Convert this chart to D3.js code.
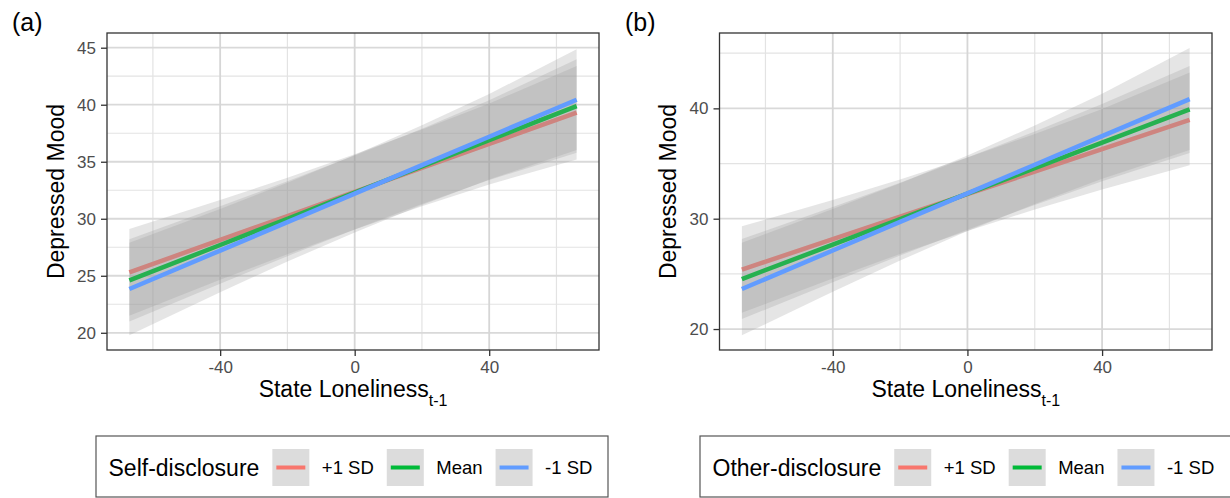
<!DOCTYPE html>
<html>
<head>
<meta charset="utf-8">
<script src="https://cdn.jsdelivr.net/npm/d3@7"></script>
<style>
  html, body { margin: 0; padding: 0; background: #fff; }
  svg { display: block; font-family: "Liberation Sans", Arial, Helvetica, sans-serif; }
</style>
</head>
<body>
<svg id="chart" width="1230" height="498"></svg>
<script>
// Predicted depressed mood across lagged state loneliness,
// at three levels of the moderator (+1 SD, Mean, -1 SD).
const loneliness = [-67, -40, -20, 0, 20, 40, 66];
const levels = ["+1 SD", "Mean", "-1 SD"];

// (a) self-disclosure: fitted values and confidence bounds per level
const selfFit = [
  [25.30, 28.14, 30.24, 32.35, 34.46, 36.56, 39.30],
  [24.60, 27.70, 30.00, 32.30, 34.60, 36.90, 39.88],
  [23.84, 27.21, 29.70, 32.20, 34.70, 37.19, 40.44]
];
const selfLower = [
  [21.50, 24.64, 26.89, 29.05, 31.09, 33.01, 35.20],
  [21.00, 24.30, 26.72, 29.05, 31.30, 33.40, 35.78],
  [19.79, 23.56, 26.25, 28.80, 31.20, 33.44, 36.02]
];
const selfUpper = [
  [29.10, 31.64, 33.59, 35.65, 37.83, 40.11, 43.40],
  [28.20, 31.10, 33.28, 35.55, 37.90, 40.40, 43.98],
  [27.89, 30.86, 33.15, 35.60, 38.20, 40.94, 44.86]
];

// (b) other-disclosure
const otherFit = [
  [25.39, 28.14, 30.18, 32.22, 34.26, 36.30, 38.95],
  [24.53, 27.65, 29.96, 32.27, 34.58, 36.89, 39.90],
  [23.63, 27.12, 29.71, 32.30, 34.89, 37.48, 40.84]
];
const otherLower = [
  [21.47, 24.59, 26.80, 28.89, 30.84, 32.65, 34.85],
  [20.90, 24.25, 26.66, 29.00, 31.25, 33.39, 35.95],
  [19.43, 23.37, 26.21, 28.88, 31.34, 33.63, 36.22]
];
const otherUpper = [
  [29.31, 31.69, 33.56, 35.55, 37.68, 39.95, 43.25],
  [28.16, 31.05, 33.26, 35.54, 37.91, 40.39, 43.85],
  [27.83, 30.87, 33.21, 35.72, 38.44, 41.33, 45.46]
];

const xTicks = [-40, 0, 40];
const xMinor = [-60, -20, 20, 60];
const selfYTicks = [20, 25, 30, 35, 40, 45];
const selfYMinor = [22.5, 27.5, 32.5, 37.5, 42.5];
const otherYTicks = [20, 30, 40];
const otherYMinor = [25, 35, 45];

const lineColors = ["#F8766D", "#00BA38", "#619CFF"];

const svg = d3.select("#chart");

function drawPanel(cfg) {
  const g = svg.append("g");
  const x = d3.scaleLinear().domain([-73.65, 72.65]).range([cfg.left, cfg.right]);
  const y = d3.scaleLinear().domain(cfg.yDomain).range([cfg.bottom, cfg.top]);

  // panel background
  g.append("rect")
    .attr("x", cfg.left).attr("y", cfg.top)
    .attr("width", cfg.right - cfg.left).attr("height", cfg.bottom - cfg.top)
    .attr("fill", "#fff");

  // grid
  const grid = g.append("g");
  grid.selectAll(".ymin").data(cfg.yMinor).join("line")
    .attr("x1", cfg.left).attr("x2", cfg.right)
    .attr("y1", d => y(d)).attr("y2", d => y(d))
    .attr("stroke", "#e3e3e3").attr("stroke-width", 1.2);
  grid.selectAll(".xmin").data(xMinor).join("line")
    .attr("y1", cfg.top).attr("y2", cfg.bottom)
    .attr("x1", d => x(d)).attr("x2", d => x(d))
    .attr("stroke", "#e3e3e3").attr("stroke-width", 1.2);
  grid.selectAll(".ymaj").data(cfg.yTicks).join("line")
    .attr("x1", cfg.left).attr("x2", cfg.right)
    .attr("y1", d => y(d)).attr("y2", d => y(d))
    .attr("stroke", "#d9d9d9").attr("stroke-width", 1.8);
  grid.selectAll(".xmaj").data(xTicks).join("line")
    .attr("y1", cfg.top).attr("y2", cfg.bottom)
    .attr("x1", d => x(d)).attr("x2", d => x(d))
    .attr("stroke", "#d6d6d6").attr("stroke-width", 1.8);

  // ribbons and lines, one level after another
  const area = d3.area()
    .x((d, i) => x(loneliness[i]))
    .y0(d => y(d[0]))
    .y1(d => y(d[1]));
  const line = d3.line()
    .x((d, i) => x(loneliness[i]))
    .y(d => y(d));

  levels.forEach((lv, k) => {
    const band = cfg.lower[k].map((lo, i) => [lo, cfg.upper[k][i]]);
    g.append("path")
      .attr("d", area(band))
      .attr("fill", "#999999")
      .attr("fill-opacity", 0.25);
    g.append("path")
      .attr("d", line(cfg.fit[k]))
      .attr("fill", "none")
      .attr("stroke", lineColors[k])
      .attr("stroke-width", 4.5);
  });

  // panel border
  g.append("rect")
    .attr("x", cfg.left).attr("y", cfg.top)
    .attr("width", cfg.right - cfg.left).attr("height", cfg.bottom - cfg.top)
    .attr("fill", "none").attr("stroke", "#333").attr("stroke-width", 1.3);

  // axes
  const xAxis = d3.axisBottom(x).tickValues(xTicks).tickSize(6).tickPadding(5)
    .tickFormat(d3.format("d"));
  const xa = g.append("g").attr("transform", `translate(0,${cfg.bottom})`).call(xAxis);
  const yAxis = d3.axisLeft(y).tickValues(cfg.yTicks).tickSize(6).tickPadding(5)
    .tickFormat(d3.format("d"));
  const ya = g.append("g").attr("transform", `translate(${cfg.left},0)`).call(yAxis);
  [xa, ya].forEach(a => {
    a.select(".domain").remove();
    a.selectAll(".tick line").attr("stroke", "#333").attr("stroke-width", 1.3);
    a.selectAll(".tick text")
      .attr("fill", "#4d4d4d")
      .style("font-size", "17px")
      .style("font-family", "'Liberation Sans', Arial, sans-serif");
  });
  xa.selectAll(".tick text").text(d => d < 0 ? "-" + Math.abs(d) : d);
  ya.selectAll(".tick text").attr("x", -11);

  // axis titles
  g.append("text")
    .attr("transform", `translate(${cfg.left - 43.5},${(cfg.top + cfg.bottom) / 2}) rotate(-90)`)
    .attr("text-anchor", "middle")
    .style("font-size", "23px")
    .attr("fill", "#000")
    .text("Depressed Mood");

  const xt = g.append("text")
    .attr("x", (cfg.left + cfg.right) / 2)
    .attr("y", 396.5)
    .attr("text-anchor", "middle")
    .attr("fill", "#000")
    .style("font-size", "23px");
  xt.append("tspan").text("State Loneliness");
  xt.append("tspan").attr("dy", 9).style("font-size", "16px").text("t-1");

  // panel tag
  svg.append("text")
    .attr("x", cfg.tagX).attr("y", 31)
    .style("font-size", "25px")
    .attr("fill", "#000")
    .text(cfg.tag);

  // legend
  const lg = svg.append("g");
  lg.append("rect")
    .attr("x", cfg.legendLeft).attr("y", 436)
    .attr("width", cfg.legendRight - cfg.legendLeft).attr("height", 61)
    .attr("fill", "#fff").attr("stroke", "#555").attr("stroke-width", 1.2);
  const title = lg.append("text")
    .attr("x", cfg.legendLeft + 12.5).attr("y", 475.5)
    .style("font-size", "23px").attr("fill", "#000")
    .text(cfg.legendTitle);
  let cx = cfg.legendLeft + 12.5 + title.node().getComputedTextLength() + 13;
  levels.forEach((lv, k) => {
    lg.append("rect")
      .attr("x", cx).attr("y", 449).attr("width", 37).attr("height", 37)
      .attr("fill", "#dcdcdc");
    lg.append("line")
      .attr("x1", cx + 4).attr("x2", cx + 33)
      .attr("y1", 467.5).attr("y2", 467.5)
      .attr("stroke", lineColors[k]).attr("stroke-width", 4);
    const t = lg.append("text")
      .attr("x", cx + 37 + 12.5).attr("y", 474.3)
      .style("font-size", "18.5px").attr("fill", "#000")
      .text(lv);
    cx = cx + 37 + 12.5 + t.node().getComputedTextLength() + 13;
  });
}

drawPanel({
  tag: "(a)", tagX: 12,
  left: 107, right: 599, top: 33, bottom: 350,
  yDomain: [18.49, 46.29], yTicks: selfYTicks, yMinor: selfYMinor,
  fit: selfFit, lower: selfLower, upper: selfUpper,
  legendTitle: "Self-disclosure", legendLeft: 96, legendRight: 608
});

drawPanel({
  tag: "(b)", tagX: 625,
  left: 719.5, right: 1212, top: 33, bottom: 350,
  yDomain: [18.1, 46.83], yTicks: otherYTicks, yMinor: otherYMinor,
  fit: otherFit, lower: otherLower, upper: otherUpper,
  legendTitle: "Other-disclosure", legendLeft: 700, legendRight: 1232
});
</script>
</body>
</html>
